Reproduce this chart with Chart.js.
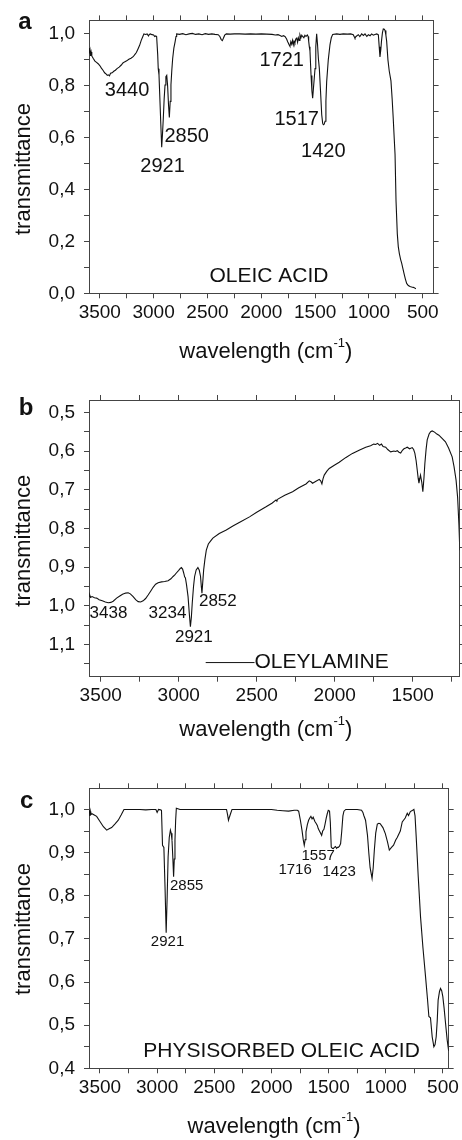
<!DOCTYPE html>
<html>
<head>
<meta charset="utf-8">
<script src="https://cdn.jsdelivr.net/npm/chart.js@4/dist/chart.umd.min.js"></script>
<style>
  html, body { margin: 0; padding: 0; background: #fff; }
  body { width: 462px; height: 1140px; position: relative; overflow: hidden; }
  canvas { position: absolute; left: 0; }
</style>
</head>
<body>
<canvas id="chartA" width="462" height="370" style="top:0"></canvas>
<canvas id="chartB" width="462" height="390" style="top:370px"></canvas>
<canvas id="chartC" width="462" height="380" style="top:760px"></canvas>
<script>
const SANS = "'Liberation Sans', Arial, Helvetica, sans-serif";
const INK = "#111";
const FRAME = "#444";

// ============ DATA: panel a (oleic acid) ============
const A_WN = [3597, 3594, 3590, 3586, 3580, 3574, 3560, 3545, 3530, 3515, 3500, 3485, 3470, 3455, 3440, 3430, 3420, 3410, 3400, 3385,
  3370, 3355, 3340, 3320, 3300, 3285, 3270, 3250, 3230, 3210, 3190, 3175, 3160, 3145, 3130, 3115, 3100, 3090, 3075, 3060,
  3048, 3040, 3030, 3015, 3000, 2990, 2980, 2972, 2962, 2957, 2950, 2941, 2933, 2925, 2918, 2910, 2902, 2894, 2886, 2878,
  2870, 2862, 2854, 2846, 2839, 2831, 2823, 2812, 2801, 2792, 2786, 2760, 2730, 2700, 2670, 2640, 2610, 2580, 2550, 2520,
  2490, 2460, 2430, 2400, 2385, 2372, 2362, 2352, 2340, 2325, 2290, 2250, 2200, 2150, 2100, 2050, 2000, 1950, 1900, 1870,
  1845, 1826, 1810, 1795, 1780, 1765, 1755, 1749, 1742, 1734, 1726, 1718, 1710, 1703, 1696, 1688, 1680, 1671, 1663, 1656,
  1648, 1641, 1632, 1624, 1616, 1605, 1595, 1585, 1573, 1565, 1560, 1554, 1548, 1538, 1530, 1523, 1516, 1508, 1501, 1494,
  1486, 1478, 1470, 1461, 1450, 1439, 1430, 1424, 1416, 1408, 1400, 1393, 1378, 1362, 1350, 1337, 1300, 1270, 1239, 1200,
  1170, 1146, 1138, 1130, 1120, 1099, 1085, 1068, 1052, 1037, 1020, 1005, 990, 975, 960, 945, 928, 913, 905, 898,
  890, 884, 875, 867, 858, 851, 843, 836, 824, 812, 796, 785, 775, 766, 758, 749, 737, 728, 718, 706,
  696, 685, 675, 662, 650, 635, 619, 604, 589, 575, 564];
const A_T = [0.945, 0.925, 0.935, 0.915, 0.93, 0.915, 0.905, 0.895, 0.89, 0.885, 0.878, 0.868, 0.86, 0.85, 0.845, 0.84, 0.842, 0.838, 0.848, 0.85,
  0.856, 0.86, 0.866, 0.872, 0.88, 0.888, 0.892, 0.896, 0.902, 0.906, 0.912, 0.92, 0.928, 0.942, 0.956, 0.975, 0.99, 1.0, 0.998, 1.0,
  0.992, 0.998, 1.0, 0.997, 0.996, 0.99, 0.992, 0.99, 0.92, 0.866, 0.842, 0.74, 0.65, 0.563, 0.61, 0.675, 0.75, 0.803, 0.835, 0.84,
  0.8, 0.73, 0.678, 0.74, 0.803, 0.86, 0.905, 0.945, 0.968, 0.99, 1.0, 0.998, 1.001, 0.997, 1.0, 1.002, 0.998, 1.0, 0.997, 1.001,
  0.998, 1.0, 0.998, 0.997, 0.99, 0.978, 0.974, 0.983, 0.995, 1.0, 0.999, 1.0, 1.0, 0.999, 1.0, 0.999, 1.0, 0.999, 0.998, 0.996,
  0.997, 0.994, 0.99, 0.993, 0.99, 0.98, 0.97, 0.965, 0.958, 0.952, 0.97, 0.96, 0.975, 0.958, 0.972, 0.965, 0.98, 0.984, 0.968, 0.985,
  0.975, 0.996, 0.985, 0.995, 0.99, 0.985, 0.995, 0.99, 0.996, 0.99, 0.972, 0.95, 0.934, 0.84, 0.78, 0.752, 0.79, 0.83, 0.866, 0.95,
  1.0, 0.96, 0.905, 0.866, 0.78, 0.688, 0.655, 0.65, 0.652, 0.663, 0.74, 0.815, 0.9, 0.959, 0.985, 0.998, 1.0, 0.998, 1.0, 0.999,
  1.0, 0.997, 0.99, 0.984, 0.99, 0.997, 0.99, 1.0, 0.994, 1.0, 0.99, 0.997, 0.993, 1.0, 0.995, 0.998, 1.0, 0.996, 0.95, 0.911,
  0.94, 0.972, 1.005, 1.019, 1.018, 1.013, 0.995, 0.972, 0.9, 0.857, 0.819, 0.75, 0.675, 0.6, 0.535, 0.357, 0.229, 0.18, 0.153, 0.13,
  0.115, 0.095, 0.077, 0.055, 0.038, 0.03, 0.026, 0.024, 0.023, 0.02, 0.018];
const A_X_TICKS = [3500, 3250, 3000, 2750, 2500, 2250, 2000, 1750, 1500, 1250, 1000, 750, 500];
const A_X_LABELS = [3500, 3000, 2500, 2000, 1500, 1000, 500];
const A_Y_TICKS = [0, 0.1, 0.2, 0.3, 0.4, 0.5, 0.6, 0.7, 0.8, 0.9, 1.0];
const A_Y_LABELS = [0, 0.2, 0.4, 0.6, 0.8, 1.0];
const A_NOTES = [
  { text: "3440", wn: 3247, t: 0.781 },
  { text: "2850", wn: 2693, t: 0.605 },
  { text: "2921", wn: 2917, t: 0.488 },
  { text: "1721", wn: 1811, t: 0.898 },
  { text: "1517", wn: 1671, t: 0.669 },
  { text: "1420", wn: 1424, t: 0.548 },
];

// ============ DATA: panel b (oleylamine) ============
const B_WN = [3575, 3570, 3565, 3555, 3540, 3526, 3510, 3490, 3470, 3452, 3435, 3420, 3398, 3380, 3360, 3340, 3324, 3310, 3292, 3276,
  3260, 3244, 3228, 3212, 3196, 3180, 3164, 3148, 3132, 3110, 3090, 3068, 3050, 3036, 3025, 3015, 3000, 2990, 2983, 2975,
  2968, 2962, 2957, 2950, 2940, 2932, 2925, 2919, 2913, 2905, 2898, 2888, 2877, 2868, 2860, 2855, 2851, 2846, 2840, 2832,
  2823, 2810, 2795, 2781, 2740, 2695, 2650, 2600, 2546, 2500, 2440, 2400, 2376, 2370, 2364, 2320, 2270, 2230, 2184, 2163,
  2150, 2142, 2120, 2099, 2090, 2082, 2075, 2067, 2050, 2035, 2000, 1971, 1930, 1886, 1840, 1801, 1770, 1750, 1737, 1725,
  1712, 1700, 1690, 1673, 1660, 1641, 1620, 1610, 1599, 1588, 1577, 1566, 1556, 1545, 1535, 1520, 1503, 1494, 1486, 1478,
  1471, 1465, 1460, 1455, 1450, 1442, 1435, 1428, 1422, 1414, 1407, 1395, 1385, 1375, 1360, 1345, 1332, 1310, 1290, 1270,
  1247, 1235, 1222, 1212, 1204, 1198];
const B_T = [0.975, 0.972, 0.978, 0.976, 0.979, 0.98, 0.984, 0.987, 0.99, 0.992, 0.991, 0.988, 0.98, 0.975, 0.97, 0.967, 0.966, 0.969, 0.976, 0.984,
  0.989, 0.99, 0.987, 0.981, 0.972, 0.962, 0.952, 0.944, 0.94, 0.938, 0.937, 0.935, 0.93, 0.924, 0.92, 0.915, 0.908, 0.903, 0.901, 0.905,
  0.915, 0.925, 0.928, 0.945, 0.976, 1.02, 1.054, 1.03, 0.992, 0.95, 0.924, 0.907, 0.901, 0.908, 0.924, 0.95, 0.967, 0.94, 0.907, 0.88,
  0.856, 0.84, 0.832, 0.825, 0.813, 0.804, 0.793, 0.782, 0.77, 0.758, 0.744, 0.734, 0.726, 0.728, 0.724, 0.714, 0.705, 0.695, 0.685, 0.677,
  0.68, 0.683, 0.678, 0.673, 0.677, 0.685, 0.672, 0.662, 0.652, 0.645, 0.636, 0.629, 0.617, 0.606, 0.597, 0.59, 0.586, 0.582, 0.583, 0.58,
  0.585, 0.582, 0.588, 0.59, 0.596, 0.602, 0.6, 0.601, 0.599, 0.603, 0.605, 0.598, 0.594, 0.592, 0.59, 0.594, 0.591, 0.596, 0.606, 0.625,
  0.649, 0.67, 0.683, 0.672, 0.662, 0.68, 0.705, 0.67, 0.632, 0.595, 0.571, 0.556, 0.55, 0.548, 0.551, 0.556, 0.559, 0.568, 0.576, 0.592,
  0.615, 0.64, 0.675, 0.72, 0.787, 0.856];
const B_X_TICKS = [3500, 3250, 3000, 2750, 2500, 2250, 2000, 1750, 1500, 1250];
const B_X_LABELS = [3500, 3000, 2500, 2000, 1500];
const B_Y_TICKS = [0.5, 0.55, 0.6, 0.65, 0.7, 0.75, 0.8, 0.85, 0.9, 0.95, 1.0, 1.05, 1.1, 1.15];
const B_Y_LABELS = [0.5, 0.6, 0.7, 0.8, 0.9, 1.0, 1.1];
const B_NOTES = [
  { text: "3438", wn: 3450, t: 1.019 },
  { text: "3234", wn: 3072, t: 1.019 },
  { text: "2921", wn: 2903, t: 1.081 },
  { text: "2852", wn: 2749, t: 0.989 },
];

// ============ DATA: panel c (physisorbed oleic acid) ============
const C_WN = [3593, 3588, 3584, 3580, 3570, 3550, 3529, 3500, 3470, 3441, 3420, 3398, 3370, 3340, 3315, 3290, 3250, 3200, 3150, 3100,
  3050, 3011, 3000, 2988, 2970, 2962, 2953, 2941, 2931, 2921, 2912, 2904, 2894, 2884, 2877, 2870, 2863, 2856, 2850, 2844,
  2838, 2832, 2800, 2700, 2600, 2500, 2420, 2393, 2384, 2376, 2368, 2358, 2345, 2300, 2200, 2100, 2000, 1950, 1900, 1850,
  1800, 1774, 1762, 1747, 1733, 1722, 1713, 1705, 1698, 1686, 1675, 1665, 1655, 1645, 1635, 1620, 1610, 1599, 1590, 1578,
  1570, 1561, 1552, 1541, 1532, 1521, 1512, 1503, 1492, 1485, 1477, 1468, 1460, 1450, 1440, 1430, 1423, 1416, 1405, 1395,
  1385, 1375, 1366, 1350, 1300, 1250, 1212, 1200, 1192, 1177, 1160, 1148, 1137, 1120, 1110, 1100, 1088, 1074, 1060, 1049,
  1025, 1004, 985, 969, 950, 932, 913, 900, 873, 856, 830, 812, 801, 785, 765, 754, 744, 734, 716, 696,
  675, 652, 635, 623, 609, 594, 579, 569, 559, 550, 542, 530, 521, 511, 501, 490, 477, 463, 450];
const C_T = [0.998, 0.985, 0.995, 0.988, 0.99, 0.987, 0.984, 0.972, 0.96, 0.952, 0.955, 0.958, 0.966, 0.975, 0.987, 1.0, 1.0, 1.0, 1.0, 0.999,
  1.0, 1.0, 0.993, 1.0, 0.999, 0.998, 0.917, 0.912, 0.82, 0.714, 0.8, 0.89, 0.935, 0.952, 0.945, 0.929, 0.89, 0.844, 0.885, 0.929,
  0.975, 1.003, 1.0, 1.0, 1.0, 1.0, 1.0, 1.0, 0.988, 0.975, 0.982, 0.99, 1.0, 1.0, 1.0, 1.0, 1.0, 0.998, 0.997, 0.996,
  0.998, 0.998, 0.996, 0.975, 0.952, 0.93, 0.917, 0.93, 0.948, 0.965, 0.975, 0.98, 0.984, 0.978, 0.982, 0.972, 0.968, 0.963, 0.955, 0.949,
  0.945, 0.94, 0.95, 0.954, 0.965, 0.98, 0.99, 0.998, 0.996, 0.97, 0.913, 0.91, 0.909, 0.912, 0.914, 0.91, 0.912, 0.912, 0.915, 0.921,
  0.95, 0.985, 0.996, 1.0, 1.0, 1.0, 0.998, 0.993, 0.986, 0.975, 0.94, 0.898, 0.865, 0.84, 0.865, 0.906, 0.945, 0.966, 0.968, 0.967,
  0.958, 0.944, 0.925, 0.906, 0.912, 0.917, 0.929, 0.935, 0.95, 0.971, 0.98, 0.991, 0.986, 0.995, 0.998, 1.0, 0.985, 0.937, 0.844, 0.751,
  0.68, 0.612, 0.56, 0.52, 0.517, 0.473, 0.45, 0.455, 0.473, 0.51, 0.558, 0.578, 0.585, 0.58, 0.566, 0.54, 0.504, 0.466, 0.44];
const C_X_TICKS = [3500, 3250, 3000, 2750, 2500, 2250, 2000, 1750, 1500, 1250, 1000, 750, 500];
const C_X_LABELS = [3500, 3000, 2500, 2000, 1500, 1000, 500];
const C_Y_TICKS = [0.4, 0.45, 0.5, 0.55, 0.6, 0.65, 0.7, 0.75, 0.8, 0.85, 0.9, 0.95, 1.0];
const C_Y_LABELS = [0.4, 0.5, 0.6, 0.7, 0.8, 0.9, 1.0];
const C_NOTES = [
  { text: "2921", wn: 2909, t: 0.692 },
  { text: "2855", wn: 2742, t: 0.822 },
  { text: "1557", wn: 1591, t: 0.892 },
  { text: "1716", wn: 1793, t: 0.861 },
  { text: "1423", wn: 1408, t: 0.855 },
];

// ============ TEXT PLUGIN ============
function drawWavelengthTitle(ctx, cx, cy) {
  const main = `22px ${SANS}`, sup = `13px ${SANS}`;
  ctx.font = main;
  const w1 = ctx.measureText("wavelength (cm").width;
  const w3 = ctx.measureText(")").width;
  ctx.font = sup;
  const w2 = ctx.measureText("-1").width;
  let x = cx - (w1 + w2 + w3) / 2;
  ctx.textAlign = "left";
  ctx.font = main;
  ctx.fillText("wavelength (cm", x, cy);
  x += w1;
  ctx.font = sup;
  ctx.fillText("-1", x, cy - 9);
  x += w2;
  ctx.font = main;
  ctx.fillText(")", x, cy);
}

const panelText = {
  id: "panelText",
  afterDraw(chart, args, o) {
    const { ctx } = chart;
    const xs = chart.scales.x, ys = chart.scales.y;
    ctx.save();
    ctx.fillStyle = INK;
    ctx.textBaseline = "middle";
    ctx.textAlign = "center";

    ctx.font = `bold 24px ${SANS}`;
    ctx.fillText(o.letter[0], o.letter[1], o.letter[2]);

    ctx.save();
    ctx.translate(o.yTitle[0], o.yTitle[1]);
    ctx.rotate(-Math.PI / 2);
    ctx.font = `22px ${SANS}`;
    ctx.fillText("transmittance", 0, 0);
    ctx.restore();

    drawWavelengthTitle(ctx, o.xTitle[0], o.xTitle[1]);

    ctx.textAlign = "center";
    ctx.font = `${o.noteSize}px ${SANS}`;
    o.notes.forEach(n => ctx.fillText(n.text, xs.getPixelForValue(n.wn), ys.getPixelForValue(n.t)));

    const nm = o.name;
    ctx.font = `21px ${SANS}`;
    ctx.textAlign = nm.line ? "left" : "center";
    const nx = xs.getPixelForValue(nm.wn), ny = ys.getPixelForValue(nm.t);
    ctx.fillText(nm.text, nx, ny);
    if (nm.line) {
      ctx.strokeStyle = INK;
      ctx.lineWidth = 1;
      ctx.beginPath();
      ctx.moveTo(xs.getPixelForValue(nm.line), ny);
      ctx.lineTo(nx, ny);
      ctx.stroke();
    }
    ctx.restore();
  }
};

// ============ CHARTS ============
function has(list, v) {
  return list.some(l => Math.abs(l - v) < 1e-6);
}

function axisLine() {
  return { drawOnChartArea: false, drawTicks: true, tickLength: 5, color: FRAME, lineWidth: 1 };
}

function makePanel(id, wn, t, c) {
  const tickFont = { family: SANS, size: 19 };
  const xBase = {
    type: "linear", reverse: true, min: c.xMin, max: c.xMax,
    afterBuildTicks: s => { s.ticks = c.xTicks.map(v => ({ value: v })); },
    grid: axisLine(),
    border: { color: FRAME, width: 1 },
  };
  const yBase = {
    type: "linear", reverse: !!c.yReverse, min: c.yMin, max: c.yMax,
    afterBuildTicks: s => { s.ticks = c.yTicks.map(v => ({ value: v })); },
    grid: axisLine(),
    border: { color: FRAME, width: 1 },
  };
  return new Chart(document.getElementById(id), {
    type: "line",
    data: {
      datasets: [{
        data: wn.map((x, i) => ({ x, y: t[i] })),
        borderColor: INK,
        borderWidth: 1.1,
        pointRadius: 0,
        tension: 0,
        fill: false,
      }]
    },
    options: {
      responsive: false,
      animation: false,
      events: [],
      layout: { padding: 0 },
      plugins: { legend: { display: false }, tooltip: { enabled: false }, panelText: c.text },
      scales: {
        x: Object.assign({}, xBase, {
          position: "bottom",
          ticks: { autoSkip: false, maxRotation: 0, padding: 3, color: INK, font: tickFont,
            callback: v => has(c.xLabels, v) ? String(v) : "" },
          afterFit: s => { s.height = c.bottom; },
        }),
        xTop: Object.assign({}, xBase, {
          position: "top",
          ticks: { display: false, autoSkip: false },
          afterFit: s => { s.height = c.top; },
        }),
        y: Object.assign({}, yBase, {
          position: "left",
          ticks: { autoSkip: false, padding: 9, color: INK, font: tickFont,
            callback: v => has(c.yLabels, v) ? v.toFixed(1).replace(".", ",") : "" },
          afterFit: s => { s.width = 89; },
        }),
        yRight: Object.assign({}, yBase, {
          position: "right",
          ticks: { display: false, autoSkip: false },
          afterFit: s => { s.width = c.right; },
        }),
      }
    },
    plugins: [panelText]
  });
}

makePanel("chartA", A_WN, A_T, {
  xMin: 400, xMax: 3600, xTicks: A_X_TICKS, xLabels: A_X_LABELS,
  yMin: 0, yMax: 1.052, yTicks: A_Y_TICKS, yLabels: A_Y_LABELS,
  top: 18, bottom: 76.7, right: 28.4,
  text: { letter: ["a", 25, 22.5], yTitle: [24, 169], xTitle: [265.8, 352], noteSize: 20, notes: A_NOTES,
    name: { text: "OLEIC ACID", wn: 1929, t: 0.066 } }
});

makePanel("chartB", B_WN, B_T, {
  xMin: 1200, xMax: 3575, xTicks: B_X_TICKS, xLabels: B_X_LABELS,
  yMin: 0.468, yMax: 1.183, yReverse: true, yTicks: B_Y_TICKS, yLabels: B_Y_LABELS,
  top: 30, bottom: 83.3, right: 2.5,
  text: { letter: ["b", 26, 38], yTitle: [24, 170.7], xTitle: [265.8, 360], noteSize: 17, notes: B_NOTES,
    name: { text: "OLEYLAMINE", wn: 2514, t: 1.1465, line: 2827 } }
});

makePanel("chartC", C_WN, C_T, {
  xMin: 450, xMax: 3596, xTicks: C_X_TICKS, xLabels: C_X_LABELS,
  yMin: 0.4, yMax: 1.049, yTicks: C_Y_TICKS, yLabels: C_Y_LABELS,
  top: 28.3, bottom: 71.7, right: 12.3,
  text: { letter: ["c", 26.7, 41.7], yTitle: [24, 169], xTitle: [274, 366.7], noteSize: 15, notes: C_NOTES,
    name: { text: "PHYSISORBED OLEIC ACID", wn: 1912, t: 0.4385 } }
});
</script>
</body>
</html>
